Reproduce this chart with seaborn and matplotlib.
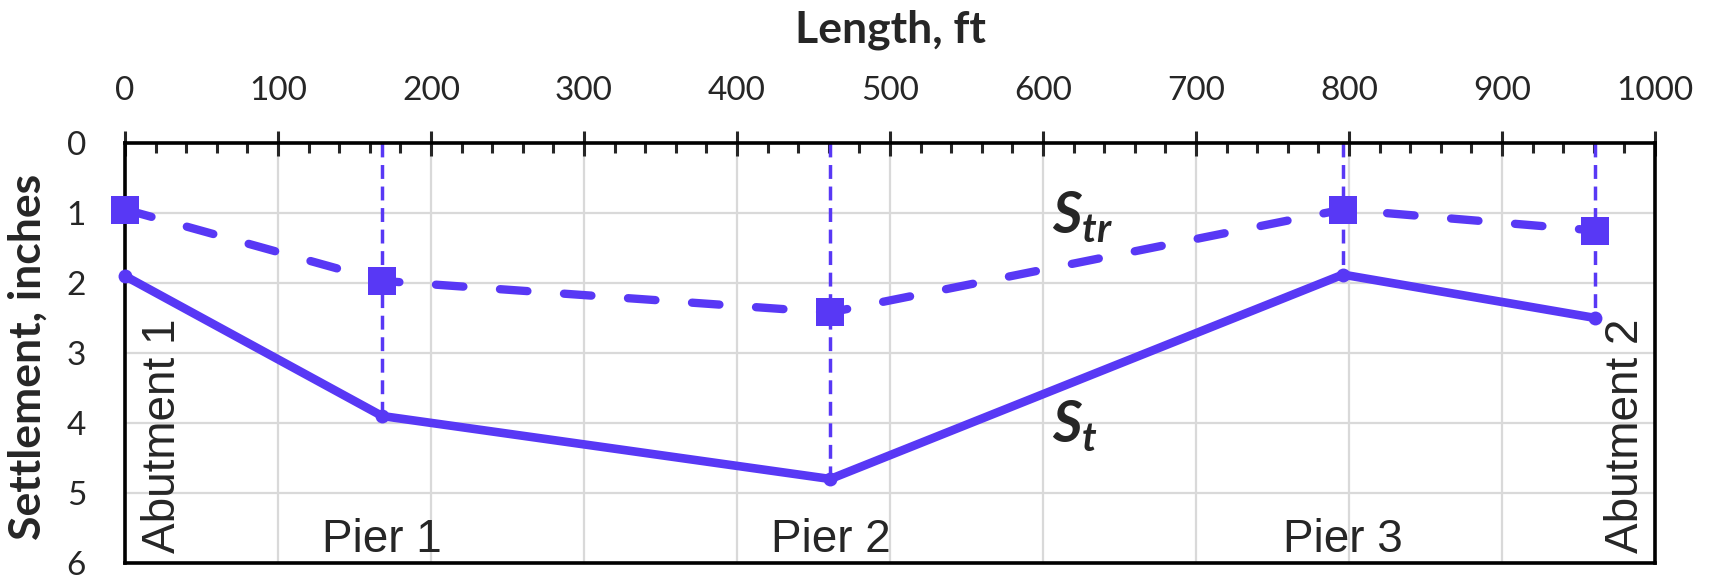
import matplotlib
matplotlib.use('Agg')
import matplotlib.pyplot as plt
import seaborn as sns
from matplotlib.ticker import MultipleLocator

# data
length_ft = [0, 168, 461, 796, 961]
s_t = [1.9, 3.9, 4.8, 1.88, 2.5]
s_tr = [0.95, 1.97, 2.42, 0.95, 1.25]
support_labels = ['Abutment 1', 'Pier 1', 'Pier 2', 'Pier 3', 'Abutment 2']
x_ticks = list(range(0, 1001, 100))
y_ticks = list(range(0, 7))

PURPLE = '#5838F5'

sns.set_style('white')
plt.rcParams['font.family'] = ['Lato', 'DejaVu Sans']
plt.rcParams['mathtext.fontset'] = 'custom'
plt.rcParams['mathtext.it'] = 'Lato:italic:bold'
plt.rcParams['mathtext.rm'] = 'Lato:bold'

fig = plt.figure(figsize=(17.16, 5.77), dpi=100)
ax = fig.add_axes([125 / 1716, 1 - 563 / 577, 1530 / 1716, 420 / 577])

# vertical guides at piers and abutment 2
ax.vlines(length_ft[1:], 0, s_t[1:], colors=PURPLE, linewidth=2.5,
          linestyles=(0, (4, 2.2)), zorder=2)

# total settlement
sns.lineplot(x=length_ft, y=s_t, ax=ax, color=PURPLE, linewidth=6.2,
             marker='o', markersize=10, markeredgewidth=0, zorder=3,
             clip_on=False)
# transient settlement
sns.lineplot(x=length_ft, y=s_tr, ax=ax, color=PURPLE, linewidth=6.0,
             linestyle=(0, (3.3, 4.4)), dash_capstyle='round',
             marker='s', markersize=20.5, markeredgewidth=0, zorder=4,
             clip_on=False)

ax.set_xlim(0, 1000)
ax.set_ylim(6, 0)
ax.set_xticks(x_ticks)
ax.set_yticks(y_ticks)
ax.xaxis.set_minor_locator(MultipleLocator(20))
ax.yaxis.set_minor_locator(MultipleLocator(0.2))
ax.xaxis.tick_top()

ax.grid(True, which='major', color='#d9d9d9', linewidth=1.6, zorder=0)
ax.set_axisbelow(True)
for side in ['top', 'bottom', 'left', 'right']:
    ax.spines[side].set_visible(True)
    ax.spines[side].set_color('black')
    ax.spines[side].set_linewidth(2.6)

ax.tick_params(axis='x', which='major', direction='inout', length=18, width=2.2,
               pad=18, labelsize=24, top=True, bottom=False)
ax.tick_params(axis='x', which='minor', direction='in', length=7, width=2.2,
               top=True, bottom=False)
ax.tick_params(axis='y', which='major', direction='out', length=9, width=2.2,
               pad=19, labelsize=24)
ax.tick_params(axis='y', which='minor', direction='in', length=7, width=2.2)

ax.set_xlabel('Length, ft', fontsize=32, fontweight='bold')
ax.xaxis.label.set_va('baseline')
ax.xaxis.set_label_coords(0.5, 1 + 100 / 420)
ax.set_ylabel('Settlement, inches', fontsize=32, fontweight='bold')
ax.yaxis.label.set_va('center')
ax.yaxis.set_label_coords(-97 / 1530, 0.49)

# support names along the bottom
lab_font = ['Liberation Sans', 'DejaVu Sans']
ax.text(32.7, 5.86, support_labels[0], rotation=90, rotation_mode='anchor',
        ha='left', va='baseline', fontsize=33, family=lab_font)
for x, name in zip(length_ft[1:4], support_labels[1:4]):
    ax.text(x, 5.84, name, ha='center', va='baseline', fontsize=33, family=lab_font)
ax.text(988.6, 5.86, support_labels[4], rotation=90, rotation_mode='anchor',
        ha='left', va='baseline', fontsize=33, family=lab_font)

# series labels
ax.text(606, 1.29, r'$S_{tr}$', ha='left', va='baseline', fontsize=41)
ax.text(606, 4.27, r'$S_{t}$', ha='left', va='baseline', fontsize=41)

fig.savefig('out.png', dpi=100)
